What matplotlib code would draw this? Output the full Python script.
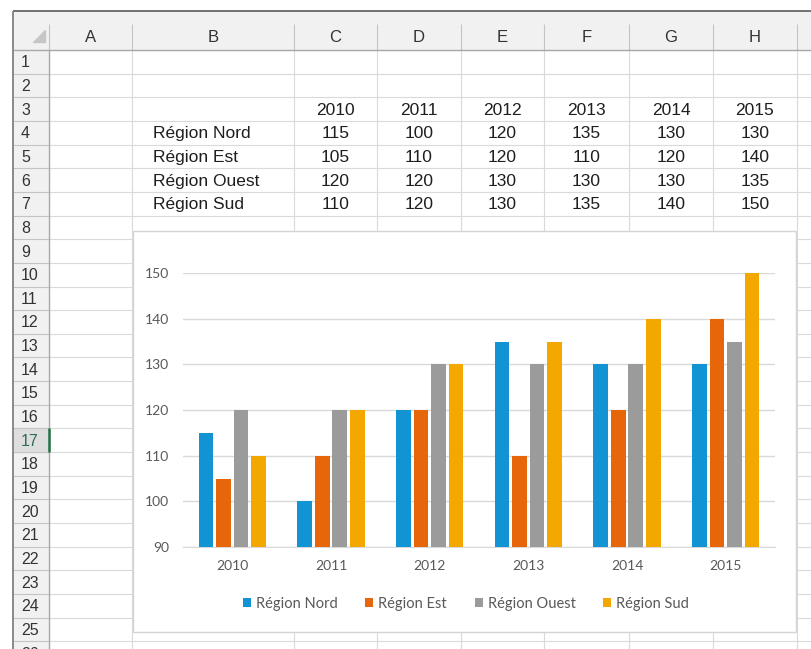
import matplotlib.pyplot as plt
from matplotlib.patches import Rectangle, Polygon
import numpy as np

# ==========================================================
#                     DONNEES
# ==========================================================
years = ["2010", "2011", "2012", "2013", "2014", "2015"]
regions = ["Région Nord", "Région Est", "Région Ouest", "Région Sud"]
nord = [115, 100, 120, 135, 130, 130]
est = [105, 110, 120, 110, 120, 140]
ouest = [120, 120, 130, 130, 130, 135]
sud = [110, 120, 130, 135, 140, 150]
series = [nord, est, ouest, sud]

bar_colors = ["#1193d4", "#e8660a", "#9b9b9b", "#f3a800"]
y_ticks = [90, 100, 110, 120, 130, 140, 150]

col_letters = ["A", "B", "C", "D", "E", "F", "G", "H"]

# ==========================================================
#                 MISE EN PAGE (pixels)
# ==========================================================
W, H = 811, 649
col_edges = [49, 132, 294, 377, 461, 544, 629, 713, 797]
row_h = 23.65
row_top = 50
n_rows = 26
row_edges = [row_top + row_h * k for k in range(n_rows + 1)]

grid_col = "#dadada"
head_bg = "#f1f1f1"
head_line = "#c4c4c4"
txt_col = "#1e1e1e"
sheet_font = "Liberation Sans"
chart_font = "Lato"

fig = plt.figure(figsize=(W / 100, H / 100), dpi=100)
sheet = fig.add_axes([0, 0, 1, 1])
sheet.set_xlim(0, W)
sheet.set_ylim(H, 0)
sheet.axis("off")


def hline(y, x0, x1, color, lw=0.8, z=2):
    sheet.plot([x0, x1], [y, y], color=color, lw=lw, zorder=z, solid_capstyle="butt")


def vline(x, y0, y1, color, lw=0.8, z=2):
    sheet.plot([x, x], [y0, y1], color=color, lw=lw, zorder=z, solid_capstyle="butt")


# ----------------- entetes --------------------
sheet.add_patch(Rectangle((13, 11), W - 13, row_top - 11, color=head_bg, zorder=1))
sheet.add_patch(Rectangle((13, row_top), col_edges[0] - 13, H - row_top, color=head_bg, zorder=1))

# ligne 17 selectionnee
sel = 16
sheet.add_patch(Rectangle((13, row_edges[sel]), col_edges[0] - 13, row_h, color="#dedede", zorder=1))

# ----------------- quadrillage --------------------
for y in row_edges[1:]:
    hline(y, col_edges[0], W, grid_col)
    hline(y, 13, col_edges[0], head_line)
for x in col_edges[1:]:
    vline(x, row_top, H, grid_col)
    vline(x, 24, row_top, head_line)
vline(col_edges[0], 24, row_top, head_line)

hline(row_top, 13, W, "#a8a8a8", lw=1.0, z=3)
vline(col_edges[0], row_top, H, "#a8a8a8", lw=1.0, z=3)
vline(col_edges[0], row_edges[sel], row_edges[sel + 1], "#217346", lw=1.8, z=4)

hline(11, 13, W, "#707070", lw=1.4, z=4)
vline(13, 11, H, "#8a8a8a", lw=1.4, z=4)

sheet.add_patch(Polygon([(45, 30), (45, 42), (33, 42)], closed=True, color="#c6c6c6", zorder=3))

# lettres de colonnes
for i, letter in enumerate(col_letters):
    xc = (col_edges[i] + col_edges[i + 1]) / 2
    sheet.text(xc, 38, letter, ha="center", va="center", fontsize=12,
               family=sheet_font, color="#333333", zorder=5)

# numeros de lignes
for k in range(n_rows):
    yc = row_edges[k] + row_h / 2
    color = "#2f6b55" if k == sel else "#333333"
    sheet.text(21, yc + 1, str(k + 1), ha="left", va="center", fontsize=11.5,
               family=sheet_font, color=color, zorder=5)

# ----------------- tableau --------------------
for j, year in enumerate(years):
    xc = (col_edges[j + 2] + col_edges[j + 3]) / 2
    sheet.text(xc, row_edges[2] + row_h / 2 + 1, year, ha="center", va="center",
               fontsize=12.5, family=sheet_font, color=txt_col, zorder=5)

for i, (name, vals) in enumerate(zip(regions, series)):
    yc = row_edges[3 + i] + row_h / 2 + 1
    sheet.text(153, yc, name, ha="left", va="center", fontsize=12.5,
               family=sheet_font, color=txt_col, zorder=5)
    for j, v in enumerate(vals):
        xc = (col_edges[j + 2] + col_edges[j + 3]) / 2
        sheet.text(xc, yc, str(v), ha="center", va="center", fontsize=12.5,
                   family=sheet_font, color=txt_col, zorder=5)

# ----------------- cadre du graphique --------------------
sheet.add_patch(Rectangle((133, 231), 663, 401, facecolor="white",
                          edgecolor="#d4d4d4", lw=1.0, zorder=10))

# ==========================================================
#                 GRAPHIQUE EN BARRES
# ==========================================================
px0, px1 = 183, 775
py_top, py_bot = 273, 547
ax = fig.add_axes([px0 / W, 1 - py_bot / H, (px1 - px0) / W, (py_bot - py_top) / H])
ax.patch.set_alpha(0)

x = np.arange(len(years))
slot = 0.178
for i, (name, vals) in enumerate(zip(regions, series)):
    ax.bar(x + (i - 1.5) * slot, vals, width=0.148, color=bar_colors[i],
           label=name, zorder=3)

ax.set_xlim(-0.5, len(years) - 0.5)
ax.set_ylim(y_ticks[0], y_ticks[-1])
ax.set_yticks(y_ticks)
ax.set_xticks(x)
ax.set_xticklabels(years)
ax.grid(True, axis="y", color="#d9d9d9", lw=1.0, zorder=0)
for side in ["top", "right", "left"]:
    ax.spines[side].set_visible(False)
ax.spines["bottom"].set_color("#d9d9d9")
ax.tick_params(length=0, colors="#595959", labelsize=10)
ax.tick_params(axis="y", pad=10)
ax.tick_params(axis="x", pad=9)
for lab in ax.get_xticklabels() + ax.get_yticklabels():
    lab.set_family(chart_font)

leg = fig.legend(loc="center", bbox_to_anchor=(466 / W, 1 - 604 / H), ncol=4,
                 frameon=False, handlelength=0.55, handleheight=0.55,
                 handletextpad=0.35, columnspacing=1.9,
                 prop={"family": chart_font, "size": 10.5})
for t in leg.get_texts():
    t.set_color("#595959")

fig.savefig("out.png", dpi=100)
